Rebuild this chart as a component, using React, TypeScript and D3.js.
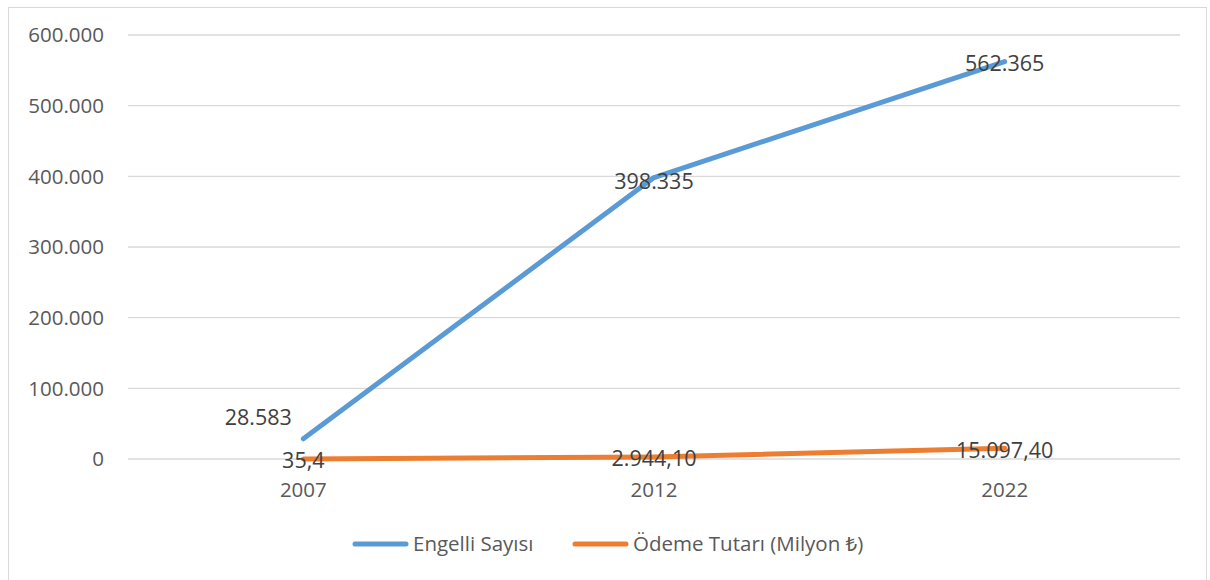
import { useEffect, useRef } from 'react';
import * as d3 from 'd3';

const years = ['2007', '2012', '2022'];
const engelliSayisi = [28583, 398335, 562365];
const engelliLabels = ['28.583', '398.335', '562.365'];
const odemeTutari = [35.4, 2944.1, 15097.4];
const odemeLabels = ['35,4', '2.944,10', '15.097,40'];
const yTicks = [0, 100000, 200000, 300000, 400000, 500000, 600000];

const W = 1210;
const H = 580;
const FONT = "'Open Sans', 'Noto Sans', sans-serif";

export default function App() {
  const svgRef = useRef<SVGSVGElement>(null);

  useEffect(() => {
    if (!svgRef.current) return;
    const svg = d3.select(svgRef.current);
    svg.selectAll('*').remove();

    // chart frame
    svg.append('rect')
      .attr('x', 8.5).attr('y', 7.5)
      .attr('width', 1198).attr('height', 600)
      .attr('fill', 'white').attr('stroke', '#d9d9d9');

    const x = d3.scalePoint<string>().domain(years).range([128, 1180]).padding(0.5);
    const y = d3.scaleLinear().domain([0, 600000]).range([459, 35]);

    // gridlines
    svg.append('g').selectAll('line')
      .data(yTicks)
      .enter().append('line')
      .attr('x1', 128).attr('x2', 1180)
      .attr('y1', d => y(d)).attr('y2', d => y(d))
      .attr('stroke', '#d9d9d9').attr('stroke-width', 1.3);

    // y tick labels
    const fmt = (v: number) => d3.format(',')(v).replace(/,/g, '.');
    svg.append('g').selectAll('text')
      .data(yTicks)
      .enter().append('text')
      .attr('x', 104).attr('y', d => y(d))
      .attr('dy', '0.35em')
      .attr('text-anchor', 'end')
      .attr('font-family', FONT).attr('font-size', 20.5)
      .attr('fill', '#595959')
      .text(d => fmt(d));

    // x labels
    svg.append('g').selectAll('text')
      .data(years)
      .enter().append('text')
      .attr('x', d => x(d)!).attr('y', 490)
      .attr('dy', '0.35em')
      .attr('text-anchor', 'middle')
      .attr('font-family', FONT).attr('font-size', 20.5)
      .attr('fill', '#595959')
      .text(d => d);

    const line = d3.line<number>()
      .x((_, i) => x(years[i])!)
      .y(d => y(d));

    svg.append('path')
      .attr('d', line(engelliSayisi))
      .attr('fill', 'none').attr('stroke', '#5b9bd5')
      .attr('stroke-width', 5).attr('stroke-linecap', 'round').attr('stroke-linejoin', 'round');

    svg.append('path')
      .attr('d', line(odemeTutari))
      .attr('fill', 'none').attr('stroke', '#ed7d31')
      .attr('stroke-width', 5).attr('stroke-linecap', 'round').attr('stroke-linejoin', 'round');

    // data labels
    const labelStyle = (sel: any) => sel
      .attr('font-family', FONT).attr('font-size', 21.5)
      .attr('fill', '#404040').attr('text-anchor', 'middle').attr('dy', '0.35em');

    svg.append('g').selectAll('text')
      .data(engelliSayisi)
      .enter().append('text')
      .attr('x', (_, i) => x(years[i])! + (i === 0 ? -45 : 0))
      .attr('y', (d, i) => y(d) + (i === 0 ? -21 : i === 1 ? 4 : 2))
      .call(labelStyle)
      .text((_, i) => engelliLabels[i]);

    svg.append('g').selectAll('text')
      .data(odemeTutari)
      .enter().append('text')
      .attr('x', (_, i) => x(years[i])!)
      .attr('y', d => y(d) + 2)
      .call(labelStyle)
      .text((_, i) => odemeLabels[i]);

    // legend
    const legend = [
      { name: 'Engelli Sayısı', color: '#5b9bd5', x: 355 },
      { name: 'Ödeme Tutarı (Milyon ₺)', color: '#ed7d31', x: 575 },
    ];
    const lg = svg.append('g').selectAll('g').data(legend).enter().append('g');
    lg.append('line')
      .attr('x1', d => d.x).attr('x2', d => d.x + 51)
      .attr('y1', 544).attr('y2', 544)
      .attr('stroke', d => d.color).attr('stroke-width', 5).attr('stroke-linecap', 'round');
    lg.append('text')
      .attr('x', d => d.x + 58).attr('y', 544).attr('dy', '0.35em')
      .attr('font-family', FONT).attr('font-size', 20.5).attr('fill', '#595959')
      .text(d => d.name);
  }, []);

  return (
    <svg
      ref={svgRef}
      width={W}
      height={H}
      style={{ position: 'absolute', left: 0, top: 0, background: 'white' }}
    />
  );
}
